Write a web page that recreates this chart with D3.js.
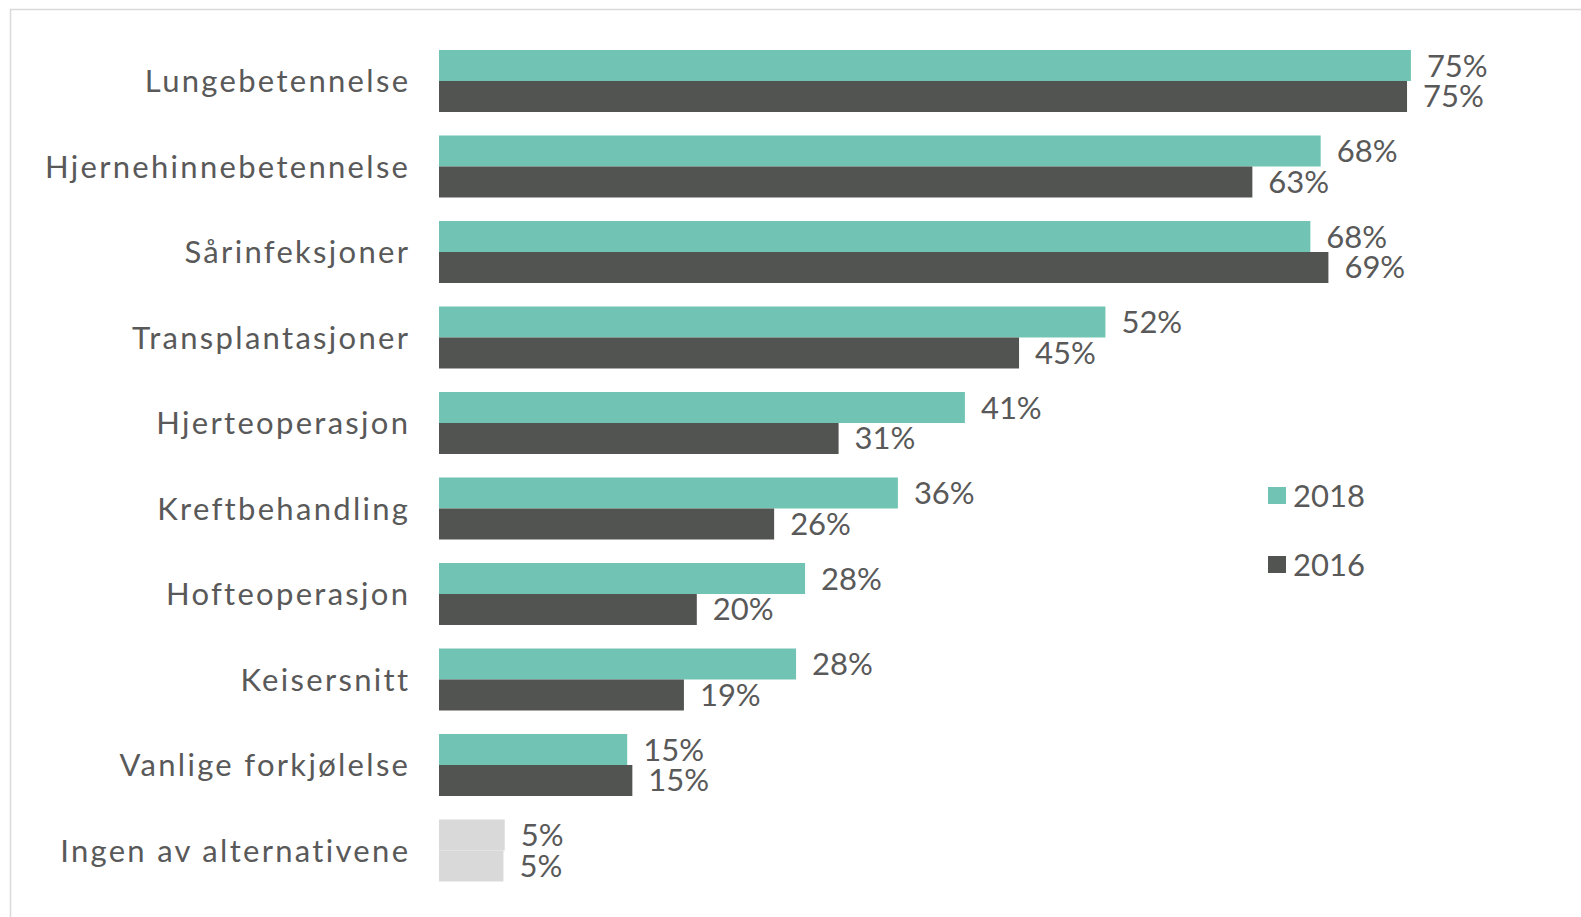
<!DOCTYPE html>
<html><head><meta charset="utf-8">
<script src="https://cdn.jsdelivr.net/npm/d3@7"></script>
<style>
html,body{margin:0;padding:0;background:#fff;}
text{font-family:Lato,"Open Sans",sans-serif;fill:#595959;}
</style></head>
<body>
<svg id="chart" width="1581" height="917"></svg>
<script>
const categories = ["Lungebetennelse","Hjernehinnebetennelse","Sårinfeksjoner","Transplantasjoner","Hjerteoperasjon","Kreftbehandling","Hofteoperasjon","Keisersnitt","Vanlige forkjølelse","Ingen av alternativene"];
const seriesNames = ["2018","2016"];
const values2018 = [75.4,68.4,67.6,51.7,40.8,35.6,28.4,27.7,14.6,5.1];
const values2016 = [75.1,63.1,69.0,45.0,31.0,26.0,20.0,19.0,15.0,5.0];
const colors = {"2018":"#71C4B3","2016":"#525451"};
const noneColor = "#D9D9D9";

const svg = d3.select("#chart");
svg.append("rect").attr("x",10.5).attr("y",9.5).attr("width",1700).attr("height",1100)
  .attr("fill","none").attr("stroke","#D9D9D9").attr("stroke-width",1.5);

const x = d3.scaleLinear().domain([0,100]).range([439, 439+1289]);
const y = d3.scaleBand().domain(categories).range([50, 50+85.5*9.725]).paddingInner(0.275).paddingOuter(0);
const ySub = d3.scaleBand().domain(seriesNames).range([0, y.bandwidth()]);

const rows = categories.map((c,i)=>({cat:c, vals:[{s:"2018",v:values2018[i]},{s:"2016",v:values2016[i]}]}));
const g = svg.append("g");
const row = g.selectAll("g.row").data(rows).join("g").attr("class","row")
  .attr("transform",d=>`translate(0,${y(d.cat)})`);

row.selectAll("rect").data(d=>d.vals.map(v=>({...v,cat:d.cat}))).join("rect")
  .attr("x",x(0)).attr("y",d=>ySub(d.s)).attr("height",ySub.bandwidth())
  .attr("width",d=>x(d.v)-x(0))
  .attr("fill",d=>d.cat==="Ingen av alternativene"?noneColor:colors[d.s]);

const fs = 31;
row.selectAll("text.val").data(d=>d.vals).join("text").attr("class","val")
  .attr("x",d=>x(d.v)+16).attr("y",d=>ySub(d.s)+ySub.bandwidth()/2+11)
  .style("font-size",fs+"px")
  .text(d=>Math.round(d.v)+"%");

const ls = 2.3;
row.append("text").attr("class","cat")
  .attr("x",408+ls).attr("y",y.bandwidth()/2+11.5)
  .attr("text-anchor","end").style("font-size",fs+"px").style("letter-spacing",ls+"px")
  .text(d=>d.cat);

// legend
const legY = {"2018":495.5,"2016":564.5};
const leg = svg.append("g").selectAll("g").data(seriesNames).join("g")
  .attr("transform",d=>`translate(1268,${legY[d]})`);
leg.append("rect").attr("x",0).attr("y",-8.5).attr("width",18).attr("height",17).attr("fill",d=>colors[d]);
leg.append("text").attr("x",25).attr("y",11.5).style("font-size",fs+"px").text(d=>d);
</script>
</body></html>
